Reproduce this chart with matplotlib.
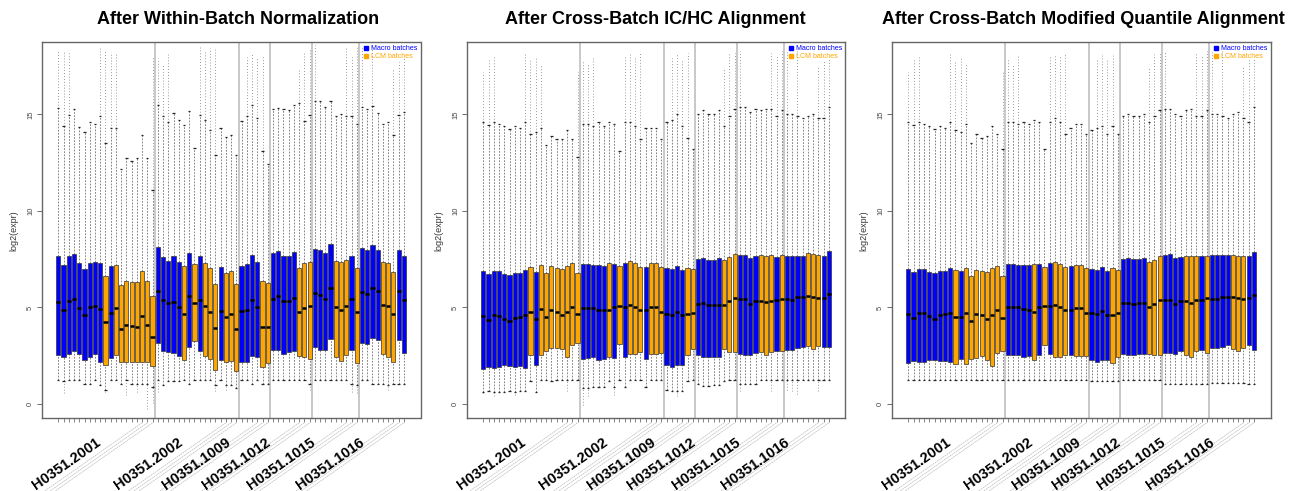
import numpy as np
import matplotlib.pyplot as plt
from matplotlib.lines import Line2D
import matplotlib.transforms as mtransforms

plt.rcParams['font.family'] = ['Liberation Sans', 'DejaVu Sans']

titles = ["After Within-Batch Normalization",
          "After Cross-Batch IC/HC Alignment",
          "After Cross-Batch Modified Quantile Alignment"]
groups = ["H0351.2001", "H0351.2002", "H0351.1009", "H0351.1012", "H0351.1015", "H0351.1016"]
group_sizes = [19, 16, 6, 8, 9, 9]
group_label_at = [8, 23.7, 32.9, 40.5, 49, 58.5]
# M = Macro batch, L = LCM batch (same sample order in every panel)
batch = ("MMMMMMMMMLMLLLLLLLL" "MMMMMLMLMLLLMLLL" "MMMMLL"
         "MMMMMLLL" "MMMMLLLML" "MMMMLLLMM")

# ---- panel 1: within-batch normalization ----
q1_1 = [2.53, 2.44, 2.58, 2.73, 2.61, 2.30, 2.44, 2.61, 2.18, 2.01, 2.39, 2.53, 2.15, 2.15, 2.15, 2.15, 2.18, 2.18, 1.96,
        3.18, 2.73, 2.70, 2.66, 2.47, 2.27, 2.94, 3.25, 2.77, 2.49, 2.35, 1.75, 2.27, 2.16, 2.22, 1.72,
        2.15, 2.15, 2.49, 2.41, 1.91, 2.11,
        2.82, 2.82, 2.59, 2.70, 2.77, 2.49, 2.41, 2.32,
        2.94, 2.82, 2.78, 3.38, 2.41, 2.23, 2.53, 2.82, 2.11,
        3.18, 3.13, 3.42, 3.30, 2.58, 2.44, 2.15, 3.30, 2.66]
med_1 = [5.27, 4.85, 5.34, 5.45, 4.97, 4.59, 5.00, 5.10, 4.91, 4.26, 4.71, 4.95, 3.90, 4.11, 4.04, 3.99, 4.55, 4.11, 3.47,
         5.84, 5.38, 5.24, 5.29, 5.02, 4.64, 5.58, 5.22, 5.38, 5.05, 4.79, 3.93, 4.81, 4.52, 4.64, 3.87,
         4.81, 4.88, 5.38, 5.00, 3.99, 3.99,
         5.45, 5.58, 5.34, 5.34, 5.50, 4.76, 4.97, 5.09,
         5.74, 5.65, 5.45, 6.01, 5.02, 4.88, 5.07, 5.45, 4.79,
         5.82, 5.70, 6.01, 5.84, 5.15, 5.07, 4.64, 5.84, 5.41]
q3_1 = [7.65, 7.22, 7.65, 7.77, 7.30, 6.99, 7.30, 7.37, 7.30, 6.65, 7.13, 7.22, 6.17, 6.36, 6.31, 6.34, 6.87, 6.39, 5.58,
        8.11, 7.59, 7.42, 7.65, 7.34, 7.13, 7.82, 7.25, 7.65, 7.30, 7.06, 6.20, 7.08, 6.79, 6.91, 6.19,
        7.16, 7.25, 7.73, 7.34, 6.37, 6.25,
        7.80, 7.94, 7.68, 7.68, 7.89, 7.06, 7.29, 7.34,
        8.02, 7.97, 7.80, 8.28, 7.41, 7.34, 7.46, 7.65, 7.06,
        8.06, 7.97, 8.23, 7.99, 7.34, 7.30, 6.86, 7.99, 7.65]
wlo_1 = [1.24, 1.20, 1.24, 1.24, 1.24, 1.05, 1.05, 1.24, 0.98, 0.75, 1.24, 1.24, 1.02, 1.24, 1.02, 1.02, 1.02, 1.02, 0.90,
         1.24, 1.00, 1.20, 1.20, 1.20, 1.24, 1.02, 1.24, 1.24, 1.24, 1.24, 0.98, 1.24, 1.00, 1.00, 0.85,
         1.24, 1.24, 1.02, 1.24, 1.02, 1.02,
         1.24, 1.24, 1.24, 1.24, 1.24, 1.24, 1.24, 1.02,
         1.24, 1.24, 1.24, 1.24, 1.24, 1.24, 1.24, 1.02, 0.98,
         1.24, 1.24, 1.02, 1.02, 1.02, 0.98, 1.02, 1.02, 1.02]
olo_1 = [0, 0.55, 0, 0, 0, 0, 0, 0, 0, 0.60, 0, 0, 0, 0.46, 0, 0.60, 0, -0.26, 0.03,
         0.60, 0, 0, 0, 0, 0, 0, 0, 0, 0, 0, 0.65, 0, 0.75, 0, 0,
         0, 0, 0, 0, 0, 0,
         0, 0, 0, 0, 0, 0, 0, 0.70,
         0, 0, 0, 0, 0, 0, 0, 0.60, 0.55,
         0, 0, 0, 0, 0, 0.75, 0, 0, 0]
whi_1 = [15.33, 14.38, 14.98, 15.29, 14.36, 14.07, 14.60, 14.50, 14.93, 13.52, 14.30, 14.30, 12.18, 12.75, 12.58, 12.75, 13.95, 12.75, 11.08,
         15.50, 14.90, 14.60, 15.07, 14.69, 14.47, 15.15, 13.26, 14.95, 14.69, 14.18, 12.87, 14.30, 13.81, 13.95, 12.92,
         14.64, 14.93, 15.50, 14.81, 13.09, 12.42,
         15.27, 15.33, 15.27, 15.20, 15.50, 15.58, 14.64, 14.95,
         15.67, 15.67, 15.38, 15.67, 14.93, 15.02, 14.90, 14.90, 14.50,
         15.38, 15.27, 15.41, 15.07, 14.52, 14.59, 13.95, 14.98, 15.10]
ohi_1 = [18.33, 18.25, 18.20, 0, 0, 0, 0, 0, 18.45, 18.33, 18.25, 18.20, 0, 0, 0, 0, 0, 0, 18.00,
         17.90, 17.56, 18.25, 0, 0, 0, 0, 0, 18.50, 18.25, 18.45, 18.50, 0, 0, 0, 0,
         0, 17.99, 18.20, 17.96, 18.08, 0,
         0, 0, 0, 0, 0, 17.39, 18.20, 18.33,
         18.59, 0, 0, 0, 0, 0, 18.50, 17.96, 18.50,
         18.50, 0, 18.50, 0, 0, 0, 17.30, 17.73, 17.90]

# ---- panel 2: IC/HC alignment ----
q1_2 = [1.79, 1.92, 1.87, 1.91, 2.01, 1.96, 1.92, 1.96, 1.87, 2.53, 2.01, 2.53, 2.77, 2.90, 2.90, 2.87, 2.44, 3.04, 3.16,
        2.35, 2.39, 2.44, 2.27, 2.32, 2.44, 2.39, 3.13, 2.42, 2.61, 2.61, 2.70, 2.32, 2.61, 2.61, 2.65,
        2.01, 1.92, 2.01, 2.01, 2.56, 2.87,
        2.53, 2.42, 2.42, 2.44, 2.44, 2.87, 2.70, 2.70,
        2.59, 2.56, 2.53, 2.65, 2.70, 2.56, 2.70, 2.77, 2.77,
        2.82, 2.82, 2.90, 2.94, 3.01, 2.87, 3.01, 2.96, 2.94]
med_2 = [4.55, 4.36, 4.59, 4.55, 4.42, 4.28, 4.47, 4.50, 4.59, 4.74, 4.38, 4.93, 4.48, 4.88, 4.79, 4.62, 4.79, 5.00, 4.66,
         4.97, 4.97, 4.97, 4.88, 4.85, 4.85, 5.00, 5.10, 5.00, 5.14, 5.00, 4.88, 4.88, 5.00, 5.02, 4.76,
         4.67, 4.62, 4.79, 4.59, 4.64, 4.73,
         5.19, 5.21, 5.15, 5.15, 5.15, 5.14, 5.31, 5.48,
         5.43, 5.43, 5.19, 5.34, 5.34, 5.26, 5.34, 5.40, 5.46,
         5.45, 5.41, 5.52, 5.53, 5.60, 5.55, 5.48, 5.48, 5.69]
q3_2 = [6.91, 6.74, 6.87, 6.87, 6.72, 6.68, 6.77, 6.77, 6.96, 7.11, 6.82, 7.22, 6.79, 7.13, 7.04, 6.99, 7.16, 7.30, 6.79,
        7.23, 7.23, 7.20, 7.20, 7.16, 7.30, 7.23, 7.13, 7.29, 7.41, 7.30, 7.11, 7.11, 7.29, 7.29, 7.08,
        7.03, 6.99, 7.16, 6.94, 7.06, 6.99,
        7.51, 7.56, 7.47, 7.47, 7.56, 7.46, 7.59, 7.75,
        7.72, 7.72, 7.54, 7.65, 7.72, 7.68, 7.72, 7.59, 7.73,
        7.68, 7.68, 7.68, 7.68, 7.80, 7.75, 7.72, 7.68, 7.92]
wlo_2 = [0.60, 0.65, 0.60, 0.60, 0.60, 0.65, 0.60, 0.65, 0.65, 1.20, 0.60, 1.24, 1.24, 1.20, 1.24, 1.24, 1.24, 1.24, 1.24,
         0.85, 0.85, 0.90, 0.90, 0.90, 1.20, 0.90, 1.24, 0.90, 1.24, 1.24, 1.24, 0.90, 1.24, 1.24, 1.24,
         0.70, 0.65, 0.65, 0.65, 1.20, 1.24,
         1.05, 0.95, 0.95, 1.00, 1.00, 1.20, 1.24, 1.24,
         1.05, 1.05, 1.05, 1.05, 1.24, 1.24, 1.24, 1.24, 1.24,
         1.24, 1.24, 1.24, 1.24, 1.24, 1.24, 1.24, 1.24, 1.24]
olo_2 = [0.55, 0.00, 0.40, 0, 0, 0, 0.45, 0, 0, 0, 0, 0, 0, 0, 0, 0, 0.65, 0, 0,
         -0.05, 0.40, 0, 0, 0, 0, 0.45, 0, 0, 0, 0, 0, 0, 0, 0, 0,
         0, 0, 0.40, 0, 0, 0,
         0, 0, 0, 0, 0, 0, 0, 0,
         0.65, 0, 0, 0, 0, 0, 0.65, 0, 0,
         0.70, 0.65, 0.50, 0, 0, 0, 0.65, 0, 0]
whi_2 = [14.60, 14.45, 14.60, 14.50, 14.40, 14.25, 14.40, 14.30, 14.60, 14.00, 14.10, 14.30, 13.40, 13.90, 13.70, 13.70, 14.20, 13.70, 12.80,
         14.50, 14.50, 14.40, 14.60, 14.40, 14.60, 14.50, 13.10, 14.60, 14.60, 14.40, 13.70, 14.30, 14.30, 14.30, 13.70,
         14.60, 14.70, 15.00, 14.40, 13.80, 13.20,
         15.00, 15.20, 15.00, 15.00, 15.20, 14.40, 14.90, 15.30,
         15.40, 15.40, 15.10, 15.30, 15.20, 15.30, 15.30, 14.90, 15.20,
         15.00, 15.00, 14.90, 14.80, 14.90, 15.00, 14.80, 14.80, 15.40]
ohi_2 = [17.20, 17.90, 18.00, 0, 0, 0, 0, 0, 18.10, 17.80, 17.90, 17.60, 0, 0, 0, 0, 0, 0, 17.20,
         17.80, 17.60, 18.00, 0, 0, 0, 0, 0, 18.00, 18.10, 18.00, 18.20, 0, 0, 0, 0,
         0, 17.90, 18.20, 17.80, 18.20, 0,
         0, 0, 0, 0, 0, 17.40, 18.10, 18.20,
         18.30, 0, 0, 0, 0, 0, 18.20, 18.00, 18.30,
         18.30, 0, 18.30, 0, 0, 0, 17.50, 17.80, 17.90]

# ---- panel 3: modified quantile alignment ----
q1_3 = [2.13, 2.22, 2.18, 2.18, 2.27, 2.27, 2.22, 2.25, 2.16, 2.06, 2.32, 2.06, 2.35, 2.39, 2.49, 2.30, 1.98, 2.66, 2.73,
        2.53, 2.53, 2.56, 2.44, 2.49, 2.27, 2.53, 3.04, 2.61, 2.44, 2.44, 2.53, 2.53, 2.47, 2.47, 2.49,
        2.27, 2.18, 2.27, 2.27, 2.10, 2.44,
        2.61, 2.56, 2.56, 2.59, 2.59, 2.59, 2.56, 2.56,
        2.66, 2.66, 2.58, 2.73, 2.56, 2.44, 2.73, 2.82, 2.65,
        2.90, 2.92, 2.97, 3.04, 2.87, 2.75, 2.90, 3.04, 2.82]
med_3 = [4.67, 4.47, 4.71, 4.71, 4.55, 4.42, 4.59, 4.66, 4.69, 4.50, 4.50, 4.73, 4.28, 4.67, 4.59, 4.40, 4.62, 4.85, 4.45,
         5.00, 5.00, 5.00, 4.90, 4.88, 4.79, 5.02, 5.10, 5.05, 5.14, 5.02, 4.85, 4.88, 4.97, 4.98, 4.73,
         4.73, 4.64, 4.83, 4.59, 4.62, 4.69,
         5.22, 5.24, 5.19, 5.21, 5.21, 5.02, 5.19, 5.38,
         5.40, 5.40, 5.19, 5.31, 5.34, 5.24, 5.36, 5.41, 5.48,
         5.45, 5.45, 5.52, 5.55, 5.53, 5.48, 5.43, 5.48, 5.62]
q3_3 = [6.99, 6.82, 6.99, 6.99, 6.82, 6.79, 6.87, 6.87, 7.03, 6.94, 6.87, 7.03, 6.62, 6.96, 6.87, 6.82, 7.03, 7.13, 6.62,
        7.25, 7.25, 7.20, 7.20, 7.22, 7.25, 7.25, 7.08, 7.30, 7.37, 7.27, 7.10, 7.13, 7.22, 7.22, 7.04,
        6.99, 6.96, 7.11, 6.91, 7.03, 6.96,
        7.51, 7.56, 7.51, 7.51, 7.56, 7.34, 7.47, 7.65,
        7.72, 7.75, 7.54, 7.59, 7.65, 7.65, 7.65, 7.65, 7.68,
        7.72, 7.72, 7.73, 7.73, 7.72, 7.68, 7.65, 7.65, 7.85]
wlo_3 = [1.24, 1.24, 1.24, 1.24, 1.24, 1.24, 1.24, 1.24, 1.24, 1.24, 1.24, 1.24, 1.24, 1.24, 1.24, 1.24, 1.24, 1.24, 1.24,
         1.24, 1.24, 1.24, 1.24, 1.24, 1.24, 1.24, 1.24, 1.24, 1.24, 1.24, 1.24, 1.24, 1.24, 1.24, 1.24,
         1.20, 1.20, 1.20, 1.20, 1.20, 1.20,
         1.24, 1.24, 1.24, 1.24, 1.24, 1.24, 1.24, 1.24,
         1.05, 1.05, 1.05, 1.05, 1.05, 1.05, 1.05, 1.05, 1.05,
         1.10, 1.10, 1.10, 1.10, 1.10, 1.10, 1.10, 1.05, 1.05]
olo_3 = [0] * 67
whi_3 = [14.60, 14.45, 14.60, 14.50, 14.40, 14.25, 14.40, 14.30, 14.60, 14.20, 14.10, 14.50, 13.50, 14.00, 13.80, 13.90, 14.40, 14.00, 13.20,
         14.60, 14.60, 14.50, 14.60, 14.50, 14.70, 14.60, 13.20, 14.60, 14.80, 14.60, 14.00, 14.30, 14.50, 14.50, 14.00,
         14.20, 14.30, 14.40, 14.00, 14.40, 14.00,
         14.90, 15.00, 14.90, 14.90, 15.00, 14.60, 14.90, 15.20,
         15.30, 15.30, 15.00, 14.90, 15.20, 15.30, 14.90, 14.90, 15.20,
         15.00, 15.00, 14.90, 14.80, 15.00, 15.10, 14.80, 14.60, 15.40]
ohi_3 = [17.20, 17.90, 18.00, 0, 0, 0, 0, 0, 18.10, 17.80, 17.90, 17.60, 0, 0, 0, 0, 0, 0, 17.20,
         17.80, 17.60, 18.00, 0, 0, 0, 0, 0, 18.00, 18.10, 18.00, 18.20, 0, 0, 0, 0,
         0, 17.90, 18.20, 17.80, 18.20, 0,
         0, 0, 0, 0, 0, 17.40, 18.10, 18.20,
         18.30, 0, 0, 0, 0, 0, 18.20, 18.00, 18.30,
         18.30, 0, 18.30, 0, 0, 0, 17.50, 17.80, 17.90]

panels = [
    (q1_1, med_1, q3_1, wlo_1, whi_1, olo_1, ohi_1),
    (q1_2, med_2, q3_2, wlo_2, whi_2, olo_2, ohi_2),
    (q1_3, med_3, q3_3, wlo_3, whi_3, olo_3, ohi_3),
]

col_map = {"M": "#0000FF", "L": "#FFA500"}
colors = [col_map[b] for b in batch]
n = len(batch)
x = np.arange(1, n + 1)
ends = np.cumsum(group_sizes)
bounds = ends[:-1] + 0.5

fig = plt.figure(figsize=(13.04, 4.91), dpi=100)
W, H = 1304.0, 491.0
lefts = [41.7, 466.7, 891.7]
title_x = [238.5, 655.0, 1083.0]

for k, (q1, med, q3, wlo, whi, olo, ohi) in enumerate(panels):
    q1, med, q3 = np.array(q1), np.array(med), np.array(q3)
    wlo, whi, olo, ohi = np.array(wlo), np.array(whi), np.array(olo), np.array(ohi)
    ax = fig.add_axes([lefts[k] / W, 1 - 418.3 / H, 378.8 / W, 376.0 / H])

    for b in bounds:
        ax.axvline(b, color="#c4c4c4", lw=1.3, zorder=1)

    # whiskers (dashed) and staples
    ax.vlines(x, q3, whi, colors="#555555", lw=0.5, linestyles=(0, (2.5, 2)), zorder=1.5)
    ax.vlines(x, wlo, q1, colors="#555555", lw=0.5, linestyles=(0, (2.5, 2)), zorder=1.5)
    ax.hlines(whi, x - 0.22, x + 0.22, colors="#222222", lw=0.9, zorder=1.6)
    ax.hlines(wlo, x - 0.22, x + 0.22, colors="#222222", lw=0.9, zorder=1.6)

    # outlier columns
    up = ohi > whi
    ax.vlines(x[up], whi[up], ohi[up], colors="#777777", lw=0.6,
              linestyles=(0, (1, 2.5)), zorder=1.4)
    dn = (olo != 0) & (olo < wlo)
    ax.vlines(x[dn], olo[dn], wlo[dn], colors="#777777", lw=0.6,
              linestyles=(0, (1, 2.5)), zorder=1.4)

    ax.bar(x, q3 - q1, bottom=q1, width=0.8, color=colors,
           edgecolor="#333333", linewidth=0.5, zorder=2)
    ax.hlines(med, x - 0.4, x + 0.4, colors="black", lw=1.8, zorder=3)

    ax.set_xlim(0.5 - 0.04 * n, n + 0.5 + 0.04 * n)
    ax.set_ylim(-0.74, 18.73)
    ax.set_xticks(x)
    ax.set_xticklabels([])
    ax.tick_params(axis="x", length=3, width=0.5, color="#555555")
    ax.set_yticks([0, 5, 10, 15])
    ax.set_yticklabels(["0", "5", "10", "15"], rotation=90, va="center",
                       fontsize=5.5, color="#444444")
    ax.tick_params(axis="y", length=3.5, width=0.6, color="#555555", pad=2)
    ax.set_ylabel("log2(expr)", fontsize=6.5, color="#333333", labelpad=6)
    for s in ax.spines.values():
        s.set_color("#666666")
        s.set_linewidth(1.0)

    trans = mtransforms.blended_transform_factory(ax.transData, ax.transAxes)
    # faint diagonal sample labels hanging from the last ticks of each group
    for e in ends:
        for j in range(3):
            ax.annotate("", xy=(e - j, -0.012), xycoords=trans,
                        xytext=(-120, -84), textcoords="offset points",
                        arrowprops=dict(arrowstyle="-", color="#bdbdbd", lw=0.5,
                                        ls=(0, (2, 1.5)), shrinkA=0, shrinkB=0),
                        annotation_clip=False)
    for name, pos in zip(groups, group_label_at):
        ax.text(pos, -0.045, name, transform=trans, rotation=35,
                rotation_mode="anchor", ha="right", va="top",
                fontsize=10.5, fontweight="bold", color="black")

    handles = [Line2D([], [], marker="s", ls="none", color="#0000FF", ms=2.5),
               Line2D([], [], marker="s", ls="none", color="#FFA500", ms=2.5)]
    ax.legend(handles, ["Macro batches", "LCM batches"], loc="upper right",
              fontsize=5, frameon=False, labelcolor=["#0000FF", "#FFA500"],
              handletextpad=0.2, handlelength=1.0, labelspacing=0.15,
              borderaxespad=0.2, borderpad=0.2)

    fig.text(title_x[k] / W, 1 - 19.0 / H, titles[k], ha="center", va="center",
             fontsize=13, fontweight="bold")

fig.savefig("out.png", dpi=100)
